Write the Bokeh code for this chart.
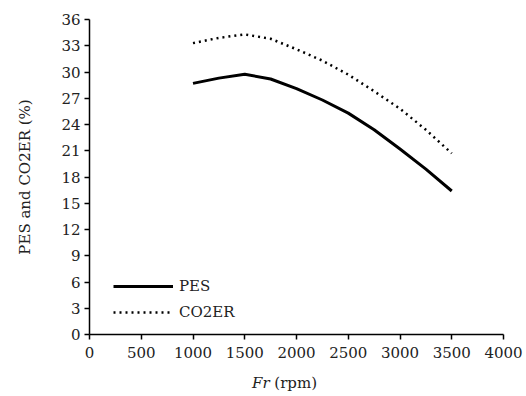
from bokeh.plotting import figure
from bokeh.layouts import column
from bokeh.models import Range1d, FixedTicker, Legend, LegendItem, Div
from bokeh.embed import file_html
from bokeh.resources import INLINE

rpm = [1000, 1250, 1500, 1750, 2000, 2250, 2500, 2750, 3000, 3250, 3500]
pes = [28.7, 29.3, 29.75, 29.2, 28.1, 26.8, 25.3, 23.4, 21.2, 18.9, 16.4]
co2er = [33.3, 33.9, 34.3, 33.8, 32.6, 31.3, 29.7, 27.8, 25.8, 23.4, 20.7]
x_ticks = [0, 500, 1000, 1500, 2000, 2500, 3000, 3500, 4000]
y_ticks = [0, 3, 6, 9, 12, 15, 18, 21, 24, 27, 30, 33, 36]

FONT = "DejaVu Serif"
TXT = "#222222"

p = figure(width=526, height=370, output_backend="svg", toolbar_location=None,
           x_range=Range1d(0, 4000), y_range=Range1d(0, 36),
           min_border_left=89, min_border_right=23, min_border_top=19, min_border_bottom=36)
p.outline_line_color = None
p.grid.visible = False

for ax in (p.xaxis[0], p.yaxis[0]):
    ax.axis_line_color = "black"
    ax.axis_line_width = 1.5
    ax.major_tick_line_color = "black"
    ax.major_tick_line_width = 1.5
    ax.major_tick_out = 5
    ax.major_tick_in = 0
    ax.minor_tick_line_color = None
    ax.major_label_text_font = FONT
    ax.major_label_text_font_size = "15px"
    ax.major_label_text_color = TXT

p.xaxis.ticker = FixedTicker(ticks=x_ticks)
p.yaxis.ticker = FixedTicker(ticks=y_ticks)
p.xaxis.major_label_standoff = 7
p.yaxis.major_label_standoff = 4

p.yaxis.axis_label = "PES and CO2ER (%)"
p.yaxis.axis_label_text_font = FONT
p.yaxis.axis_label_text_font_style = "normal"
p.yaxis.axis_label_text_font_size = "15px"
p.yaxis.axis_label_text_color = TXT
p.yaxis.axis_label_standoff = 24

r1 = p.line(rpm, pes, line_color="black", line_width=3, line_join="round")
r2 = p.line(rpm, co2er, line_color="black", line_width=2.5, line_dash="2 4")

legend = Legend(items=[LegendItem(label="PES", renderers=[r1]),
                       LegendItem(label="CO2ER", renderers=[r2])],
                location=(24, 12), border_line_color=None, background_fill_alpha=0,
                label_text_font=FONT, label_text_font_size="15px", label_text_color=TXT,
                glyph_width=60, glyph_height=20, spacing=6, padding=0, margin=0,
                label_standoff=6)
p.add_layout(legend)

xlabel = Div(text='<i>Fr</i> (rpm)', width=273, height=26, margin=(0, 0, 0, 252),
             styles={"font-family": FONT, "font-size": "15px", "color": TXT,
                     "line-height": "26px", "white-space": "nowrap"})

layout = column(p, xlabel, spacing=0)
open("out.html", "w").write(file_html(layout, INLINE))
